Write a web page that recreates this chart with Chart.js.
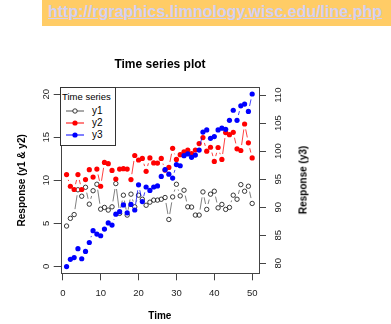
<!DOCTYPE html>
<html>
<head>
<meta charset="utf-8">
<script src="https://cdn.jsdelivr.net/npm/chart.js@4"></script>
<style>
body { margin: 0; background: #fff; }
#wrap { position: relative; width: 391px; height: 324px; overflow: hidden; font-family: "Liberation Sans", Arial, sans-serif; }
#chart { position: absolute; left: 0; top: 0; }
#banner { position: absolute; left: 42px; top: 0; width: 349px; height: 26px; background: #ffcc66; }
#banner span { position: absolute; left: 6px; top: 3px; font: bold 16px "Liberation Sans", Arial, sans-serif; color: #d2d0f2; text-decoration: underline; white-space: nowrap; }
#legend { position: absolute; left: 60px; top: 87px; width: 54px; height: 57px; border: 1px solid #333; background: #fff; font-size: 9.5px; color: #000; }
#legend .ttl { position: absolute; left: 1px; top: 3px; line-height: 12px; white-space: nowrap; }
#legend .row { position: absolute; left: 0; height: 12px; width: 54px; }
#legend .row svg { position: absolute; left: 5px; top: 0; }
#legend .row span { position: absolute; left: 31px; top: 0; line-height: 12px; font-size: 10px; }
#ytitle2 { position: absolute; left: 303px; top: 180px; transform: translate(-50%, -50%) rotate(-90deg); font: bold 10px "Liberation Sans", Arial, sans-serif; white-space: nowrap; color: #000; }
</style>
</head>
<body>
<div id="wrap">
  <canvas id="chart" width="391" height="324"></canvas>
  <div id="banner"><span>http://rgraphics.limnology.wisc.edu/line.php</span></div>
  <div id="legend">
    <div class="ttl">Time series</div>
    <div class="row" style="top:17px"><svg width="20" height="12"><line x1="0" y1="6" x2="18" y2="6" stroke="#555" stroke-width="1"/><circle cx="9" cy="6" r="2.2" fill="#fff" stroke="#222" stroke-width="0.9"/></svg><span>y1</span></div>
    <div class="row" style="top:29px"><svg width="20" height="12"><line x1="0" y1="6" x2="18" y2="6" stroke="#ff0000" stroke-width="1"/><circle cx="9" cy="6" r="2.6" fill="#ff0000"/></svg><span>y2</span></div>
    <div class="row" style="top:41px"><svg width="20" height="12"><line x1="0" y1="6" x2="18" y2="6" stroke="#0000ff" stroke-width="1"/><circle cx="9" cy="6" r="2.6" fill="#0000ff"/></svg><span>y3</span></div>
  </div>
  <div id="ytitle2">Response (y3)</div>
</div>
<script>
// data
const timeLabels = [1, 2, 3, 4, 5, 6, 7, 8, 9, 10, 11, 12, 13, 14, 15, 16, 17, 18, 19, 20,
    21, 22, 23, 24, 25, 26, 27, 28, 29, 30, 31, 32, 33, 34, 35, 36, 37, 38, 39, 40,
    41, 42, 43, 44, 45, 46, 47, 48, 49, 50];
const y1Values = [4.69, 5.58, 6.02, 8.9, 8.15, 9.19, 7.23, 8.79, 9.54, 6.65,
    6.85, 6.54, 6.92, 9.62, 6.16, 8.27, 5.96, 8.39, 6.92, 8.27,
    7.8, 7.1, 7.46, 7.7, 7.7, 7.8, 8.0, 5.45, 8.07, 9.54,
    8.19, 8.85, 6.92, 6.89, 5.96, 5.96, 8.65, 6.62, 8.39, 8.73,
    6.8, 7.2, 6.62, 6.85, 8.27, 7.8, 9.5, 8.73, 9.31, 7.31];
const y2Values = [10.66, 9.31, 8.93, 10.66, 8.93, 10.08, 11.23, 10.38, 11.3, 9.31,
    12.08, 11.93, 11.15, 10.15, 11.3, 11.35, 11.3, 10.08, 12.88, 12.36,
    12.54, 11.04, 12.6, 12.02, 12.0, 12.54, 11.19, 11.5, 13.71, 12.42,
    12.98, 13.29, 13.52, 13.11, 13.52, 14.27, 14.96, 13.38, 13.84, 12.19,
    13.81, 12.42, 15.54, 15.3, 15.57, 13.66, 13.46, 16.54, 14.35, 12.6];
const y3Values = [79.4, 80.7, 81.0, 82.6, 80.8, 82.1, 83.7, 85.8, 85.2, 84.9,
    86.1, 87.2, 86.8, 88.75, 89.2, 90.4, 89.0, 90.5, 89.5, 94.0,
    91.0, 93.6, 93.0, 93.6, 93.8, 95.5, 96.7, 95.9, 95.2, 97.6,
    97.4, 99.2, 99.5, 98.9, 99.3, 100.2, 103.4, 103.8, 102.3, 102.6,
    103.8, 104.1, 103.9, 105.5, 107.3, 105.5, 108.1, 108.4, 107.1, 110.2];
const xTicks = [0, 10, 20, 30, 40, 50];
const leftTicks = [0, 5, 10, 15, 20];
const rightTicks = [80, 85, 90, 95, 100, 105, 110];

Chart.defaults.font.family = '"Liberation Sans", Arial, sans-serif';
Chart.defaults.color = '#000';

// R type="b": line segments stop short of each point
const GAP = 5.5;
function gapDash(ctx) {
    const a = ctx.p0, b = ctx.p1;
    const len = Math.hypot(b.x - a.x, b.y - a.y);
    if (len <= 2 * GAP) return [0, len + 10];
    return [0, GAP, len - 2 * GAP, GAP + 10];
}

function toPoints(vals) {
    return vals.map((v, i) => ({ x: timeLabels[i], y: v }));
}

const tickFont = { size: 9.5 };
const axisGrid = { drawOnChartArea: false, tickLength: 7, tickColor: '#444', tickWidth: 1 };

// box round the plot region
const framePlugin = {
    id: 'frame',
    afterDatasetsDraw(chart) {
        const a = chart.chartArea;
        const c = chart.ctx;
        const l = Math.round(a.left), t = Math.round(a.top);
        const r = Math.round(a.right), b = Math.round(a.bottom);
        c.save();
        c.strokeStyle = '#444';
        c.lineWidth = 1;
        c.strokeRect(l + 0.5, t + 0.5, r - l, b - t);
        c.restore();
    }
};

new Chart(document.getElementById('chart'), {
    type: 'line',
    data: {
        datasets: [
            {
                label: 'y1',
                data: toPoints(y1Values),
                yAxisID: 'y',
                order: 3,
                borderColor: '#555',
                borderWidth: 0.75,
                pointRadius: 2.2,
                pointBorderWidth: 0.9,
                pointBorderColor: '#222',
                pointBackgroundColor: 'rgba(255,255,255,0)',
                segment: { borderDash: gapDash }
            },
            {
                label: 'y2',
                data: toPoints(y2Values),
                yAxisID: 'y',
                order: 2,
                borderColor: '#ff0000',
                borderWidth: 0.75,
                pointRadius: 2.6,
                pointBorderWidth: 0,
                pointBackgroundColor: '#ff0000',
                segment: { borderDash: gapDash }
            },
            {
                label: 'y3',
                data: toPoints(y3Values),
                yAxisID: 'y2',
                order: 1,
                borderColor: '#0000ff',
                borderWidth: 0.75,
                pointRadius: 2.6,
                pointBorderWidth: 0,
                pointBackgroundColor: '#0000ff',
                segment: { borderDash: gapDash }
            }
        ]
    },
    options: {
        responsive: false,
        animation: false,
        events: [],
        layout: { padding: { left: 11, right: 82, top: 0, bottom: 0 } },
        scales: {
            x: {
                type: 'linear',
                position: 'bottom',
                min: -0.55,
                max: 51.8,
                afterBuildTicks: s => { s.ticks = xTicks.map(v => ({ value: v })); },
                afterFit: s => { s.height = 50.7; },
                grid: axisGrid,
                border: { display: false },
                ticks: { font: tickFont, color: '#222', padding: 7, maxRotation: 0, autoSkip: false },
                title: { display: true, text: 'Time', font: { size: 10, weight: 'bold' }, padding: { top: 0, bottom: 2 } }
            },
            y: {
                type: 'linear',
                position: 'left',
                min: -0.8,
                max: 20.8,
                afterBuildTicks: s => { s.ticks = leftTicks.map(v => ({ value: v })); },
                afterFit: s => { s.width = 49.7; },
                grid: axisGrid,
                border: { display: false },
                ticks: { font: tickFont, color: '#222', padding: 2.4, minRotation: 90, maxRotation: 90, crossAlign: 'center', autoSkip: false },
                title: { display: true, text: 'Response (y1 & y2)', font: { size: 10, weight: 'bold' }, padding: { top: 5, bottom: 0 } }
            },
            y2: {
                type: 'linear',
                position: 'right',
                min: 78.2,
                max: 111.4,
                afterBuildTicks: s => { s.ticks = rightTicks.map(v => ({ value: v })); },
                afterFit: s => { s.width = 50; },
                grid: axisGrid,
                border: { display: false },
                ticks: { font: tickFont, color: '#222', padding: 4.9, minRotation: 90, maxRotation: 90, crossAlign: 'center', autoSkip: false }
            }
        },
        plugins: {
            legend: { display: false },
            tooltip: { enabled: false },
            title: {
                display: true,
                text: 'Time series plot',
                color: '#000',
                font: { size: 12, weight: 'bold' },
                padding: { top: 57.8, bottom: 15.1 }
            }
        }
    },
    plugins: [framePlugin]
});
</script>
</body>
</html>
